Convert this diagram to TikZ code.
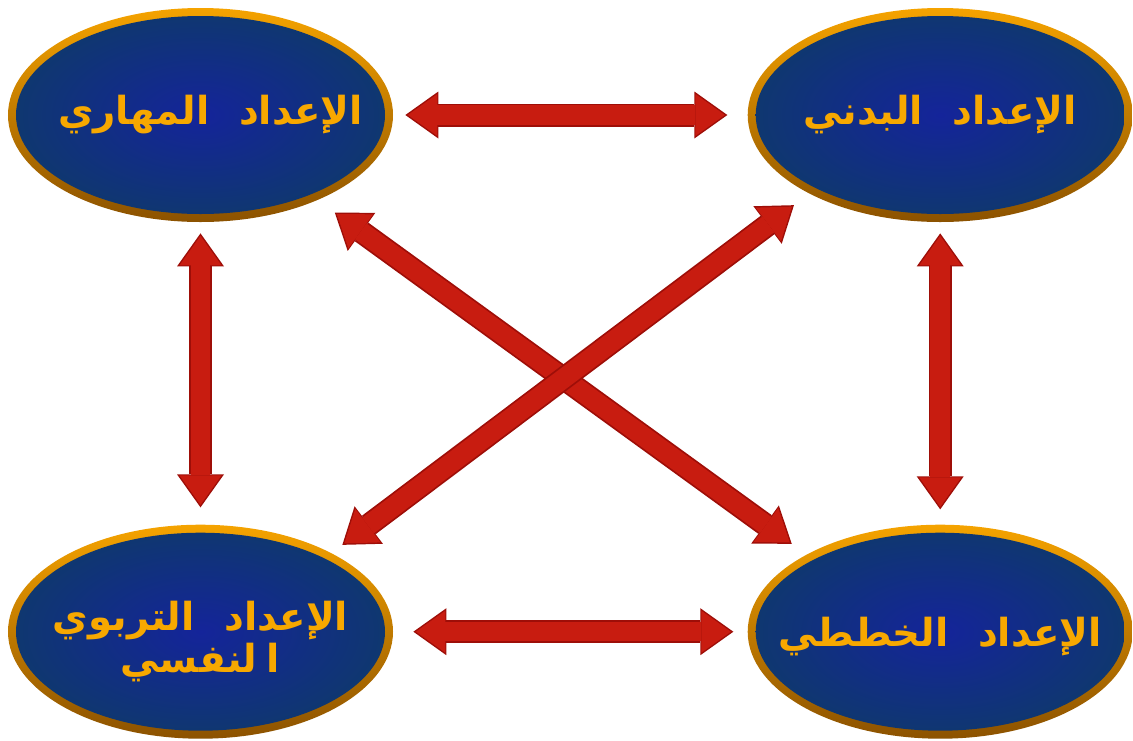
\documentclass[tikz,border=0pt]{standalone}
\usepackage{fontspec}
\usetikzlibrary{positioning,shapes.geometric,arrows.meta}
\newfontfamily\arabicfont[Script=Arabic, WordSpace=2.2]{DejaVu Sans}
\TeXXeTstate=1
\definecolor{ringtop}{HTML}{F5A300}
\definecolor{ringbot}{HTML}{8C5200}
\definecolor{bluecore}{HTML}{14249A}
\definecolor{blueedge}{HTML}{0F386E}
\definecolor{labelgold}{HTML}{F7A800}
\definecolor{arrowrim}{HTML}{9E0E08}
\definecolor{arrowbody}{HTML}{C81C10}

\begin{document}
\begin{tikzpicture}[
    prep/.style={ellipse, minimum width=7.7cm, minimum height=4.28cm, inner sep=0pt, top color=ringtop, bottom color=ringbot,
      path picture={\shade[inner color=bluecore, outer color=blueedge] (path picture bounding box.center) ellipse [x radius=3.69cm, y radius=1.98cm];}},
    lbl/.style={font=\arabicfont\bfseries\fontsize{22}{24}\selectfont, text=labelgold, align=center},
    fatrim/.style={draw=arrowrim, line width=0.46cm,
      {Triangle[length=0.66cm, width=0.94cm, line width=0pt 0 0]}-{Triangle[length=0.66cm, width=0.94cm, line width=0pt 0 0]}},
    fatbody/.style={draw=arrowbody, line width=0.39cm,
      {Triangle[length=0.59cm, width=0.84cm, line width=0pt 0 0]}-{Triangle[length=0.59cm, width=0.84cm, line width=0pt 0 0]}},
    node distance=6.04cm and 7.08cm
  ]
    \useasboundingbox (0,0) rectangle (22.66,-14.8);

    \node[prep] (tl) at (4.01,-2.3) {};
    \node[prep, right=of tl] (tr) {};
    \node[prep, below=of tl] (bl) {};
    \node[prep, below=of tr] (br) {};

    \node[lbl] (tltext) at ([xshift=0.2cm]tl.center) {\beginR الإعداد المهاري\endR};
    \node[lbl] (trtext) at (tr.center) {\beginR الإعداد البدني\endR};
    \node[lbl] (bltext) at ([yshift=-0.2cm]bl.center) {\beginR الإعداد التربوي\endR\\{\spaceskip=0.25em\beginR ا لنفسي\endR}};
    \node[lbl] (brtext) at ([yshift=-0.1cm]br.center) {\beginR الإعداد الخططي\endR};

    % double arrows between every pair
    \foreach \a/\b/\s/\t in {tl/tr/0.24/0.4, bl/br/0.4/0.28, tl/bl/0.22/0.34, tr/br/0.22/0.3,
                             tl.-36.7/br.150.4/0.42/0.36, bl.31.4/tr.-149/0.27/0.38} {
      \draw[fatrim, shorten <=\s cm, shorten >=\t cm] (\a) -- (\b);
      \draw[fatbody, shorten <=\s cm+0.05cm, shorten >=\t cm+0.05cm] (\a) -- (\b);
    }

  \end{tikzpicture}
\end{document}
